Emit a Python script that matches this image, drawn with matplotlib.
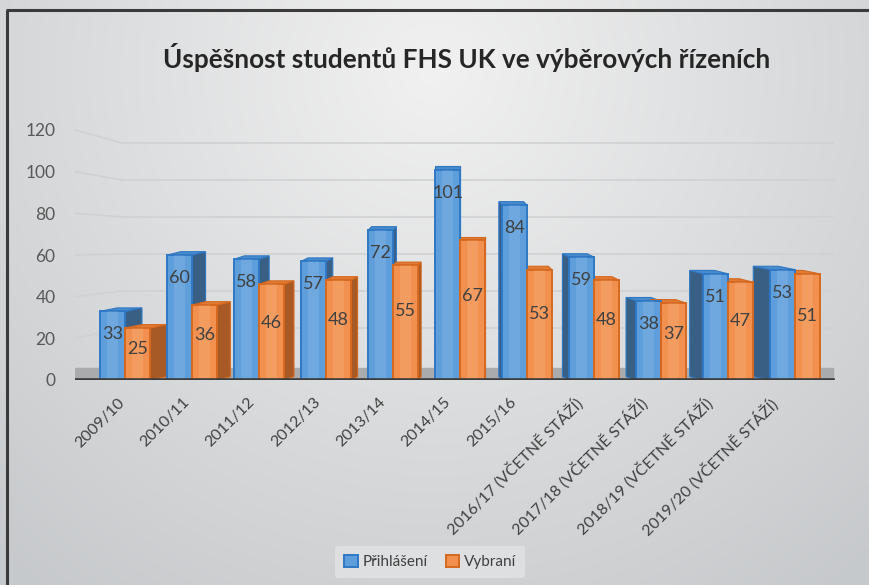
import numpy as np
import matplotlib
matplotlib.use('Agg')
import matplotlib.pyplot as plt
import matplotlib.transforms as mtransforms
from matplotlib.patches import Polygon, Patch
from matplotlib.lines import Line2D

# ---------------- data ----------------
categories = ['2009/10', '2010/11', '2011/12', '2012/13', '2013/14', '2014/15', '2015/16',
              '2016/17 (VČETNĚ STÁŽÍ)', '2017/18 (VČETNĚ STÁŽÍ)',
              '2018/19 (VČETNĚ STÁŽÍ)', '2019/20 (VČETNĚ STÁŽÍ)']
prihlaseni = [33, 60, 58, 57, 72, 101, 84, 59, 38, 51, 53]
vybrani = [25, 36, 46, 48, 55, 67, 53, 48, 37, 47, 51]
y_ticks = [0, 20, 40, 60, 80, 100, 120]
series_names = ['Přihlášení', 'Vybraní']
title = 'Úspěšnost studentů FHS UK ve výběrových řízeních'

FONT = ['Lato', 'DejaVu Sans']
plt.rcParams['font.family'] = FONT

W, H = 869, 585
fig = plt.figure(figsize=(W / 100, H / 100), dpi=100)

# background gradient
bg = fig.add_axes([0, 0, 1, 1], zorder=-10)
yy, xx = np.mgrid[0:1:300j, 0:1:450j]
r = np.sqrt(((xx - 0.5) / 0.75) ** 2 + ((yy - 0.12) / 1.1) ** 2)
r = np.clip(r, 0, 1)
light = np.array([0.945, 0.945, 0.945])
dark = np.array([0.78, 0.79, 0.80])
img = light[None, None, :] * (1 - r[..., None]) + dark[None, None, :] * r[..., None]
bg.imshow(img, extent=[0, 1, 0, 1], origin='upper', aspect='auto')
bg.set_xlim(0, 1); bg.set_ylim(0, 1)
bg.axis('off')

# border (top and left visible)
fig.add_artist(Line2D([7 / W, 7 / W], [0, 1 - 10 / H], color='#3a3a3a', lw=2.2,
                      solid_capstyle='butt', transform=fig.transFigure))
fig.add_artist(Line2D([6 / W, 1.0], [1 - 10 / H, 1 - 10 / H], color='#3a3a3a', lw=2.2,
                      solid_capstyle='butt', transform=fig.transFigure))

ax = fig.add_axes([75 / W, 1 - 380 / H, (845 - 75) / W, (380 - 130) / H])
ax.set_facecolor('none')
ax.set_xlim(-0.75, 10.75)
ax.set_ylim(0, 120)

x = np.arange(len(categories))
w = 0.37
blue_face, blue_edge, blue_side, blue_top = '#5E9FDB', '#2F78C4', '#3A5F84', '#4A8BCB'
or_face, or_edge, or_side, or_top = '#F2914F', '#D5691F', '#A85A26', '#E07A35'

center_idx = 5
depth_y = 1.6

def draw_series(xpos, vals, face, edge, side, top, lbl_frac, lbl_off):
    bars = ax.bar(xpos, vals, width=w, color=face, edgecolor=edge, linewidth=1.4, zorder=4)
    for xi, v, i in zip(xpos, vals, range(len(vals))):
        s = 0.05 * (center_idx - i)
        xl, xr = xi - w / 2, xi + w / 2
        xs = xr if s >= 0 else xl
        ax.add_patch(Polygon([(xs, 0), (xs + s, depth_y), (xs + s, v + depth_y), (xs, v)],
                             closed=True, facecolor=side, edgecolor=edge, lw=0.8, zorder=3))
        ax.add_patch(Polygon([(xl, v), (xr, v), (xr + s, v + depth_y), (xl + s, v + depth_y)],
                             closed=True, facecolor=top, edgecolor=edge, lw=0.8, zorder=3))
        ax.bar(xi, v, width=w * 0.45, color='white', alpha=0.10, zorder=5, linewidth=0)
        ax.text(xi, v * lbl_frac + lbl_off, str(v), ha='center', va='center',
                fontsize=13, color='#404040', zorder=6)
    return bars

draw_series(x - w / 2, prihlaseni, blue_face, blue_edge, blue_side, blue_top, 1.0, -11)
draw_series(x + w / 2, vybrani, or_face, or_edge, or_side, or_top, 0.6, 0)

# floor
ax.axhspan(0, 6.0, xmin=0.0, xmax=0.985, color='#a9abad', zorder=2)
ax.axhline(0, color='#3c3c3c', lw=2.6, zorder=7, xmax=0.985)

# back-wall gridlines (perspective: slant from side wall to back wall)
blend = mtransforms.blended_transform_factory(ax.transAxes, ax.transData)
for t in y_ticks[1:]:
    back = 7.2 + 0.888 * t
    ax.plot([0.0, 0.061, 0.985], [t, back, back], color='#cfd1d3', lw=1.2,
            transform=blend, zorder=1, clip_on=False)

ax.set_yticks(y_ticks)
ax.set_yticklabels([str(t) for t in y_ticks], fontsize=12.5, color='#595959')
ax.set_xticks(x * 0.975 - 0.12)
ax.set_xticklabels(categories, rotation=45, ha='right', va='top', rotation_mode='anchor',
                   fontsize=11.5, color='#404040')
ax.tick_params(axis='both', length=0)
ax.tick_params(axis='y', pad=14)
ax.tick_params(axis='x', pad=11)
for sp in ax.spines.values():
    sp.set_visible(False)

fig.text(467 / W, 1 - 57 / H, title, ha='center', va='center', fontsize=18.8,
         fontweight='bold', color='#262626')

handles = [Patch(facecolor=blue_face, edgecolor=blue_edge, lw=1.4),
           Patch(facecolor=or_face, edgecolor=or_edge, lw=1.4)]
leg = fig.legend(handles, series_names, loc='center', bbox_to_anchor=(430 / W, 1 - 562 / H),
                 ncol=2, frameon=True, fontsize=11, handlelength=0.9, handleheight=0.9,
                 handletextpad=0.3, columnspacing=1.2, borderpad=0.6)
leg.get_frame().set_facecolor('#e4e5e6')
leg.get_frame().set_edgecolor('none')
leg.get_frame().set_alpha(0.7)
for t in leg.get_texts():
    t.set_color('#404040')

fig.savefig('out.png', dpi=100)
